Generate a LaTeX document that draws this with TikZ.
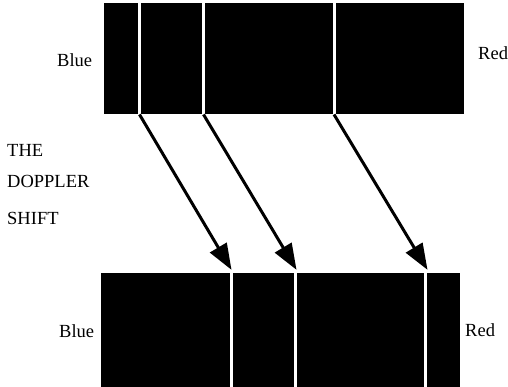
\documentclass[tikz,border=0pt]{standalone}
\usepackage{fontspec}
\setmainfont{Liberation Serif}
\usetikzlibrary{arrows.meta}
\tikzset{
  lbl/.style={inner sep=0pt, anchor=base west, font=\fontsize{18.5}{22}\selectfont},
  band/.style={fill=black, draw=none},
  gap/.style={draw=white, line width=3pt},
  shiftarrow/.style={draw=black, line width=3pt, -{Triangle[length=26pt,width=19pt]}, shorten >=-1pt}
}
\begin{document}
\begin{tikzpicture}[x=1pt,y=-1pt]
\useasboundingbox (0,0) rectangle (508,387);
% top spectrum
\fill[band] (104,3) rectangle (464,114.5);
\coordinate (t1) at (139.5,114.5);
\coordinate (t2) at (203.5,114.5);
\coordinate (t3) at (334,114.5);
\draw[gap] (139.5,3) -- (t1);
\draw[gap] (203.5,3) -- (t2);
\draw[gap] (334,3) -- (t3);
% bottom spectrum
\fill[band] (101,273) rectangle (460,387);
\coordinate (b1) at (231.5,273);
\coordinate (b2) at (295.5,273);
\coordinate (b3) at (425,273);
\draw[gap] (b1) -- (231.5,387);
\draw[gap] (b2) -- (295.5,387);
\draw[gap] (b3) -- (425,387);
% arrows
\coordinate (e1) at (231,269);
\coordinate (e2) at (296,269);
\coordinate (e3) at (427,269);
\draw[shiftarrow] (t1) -- (e1);
\draw[shiftarrow] (t2) -- (e2);
\draw[shiftarrow] (t3) -- (e3);
% labels
\node[lbl] (blueT) at (57,67) {Blue};
\node[lbl] (redT) at (478,60) {Red};
\node[lbl] (blueB) at (59,337) {Blue};
\node[lbl] (redB) at (465,336) {Red};
\node[lbl] (the) at (7,157) {THE};
\node[lbl] (dop) at (7,188) {DOPPLER};
\node[lbl] (shf) at (7,225) {SHIFT};
\end{tikzpicture}
\end{document}
